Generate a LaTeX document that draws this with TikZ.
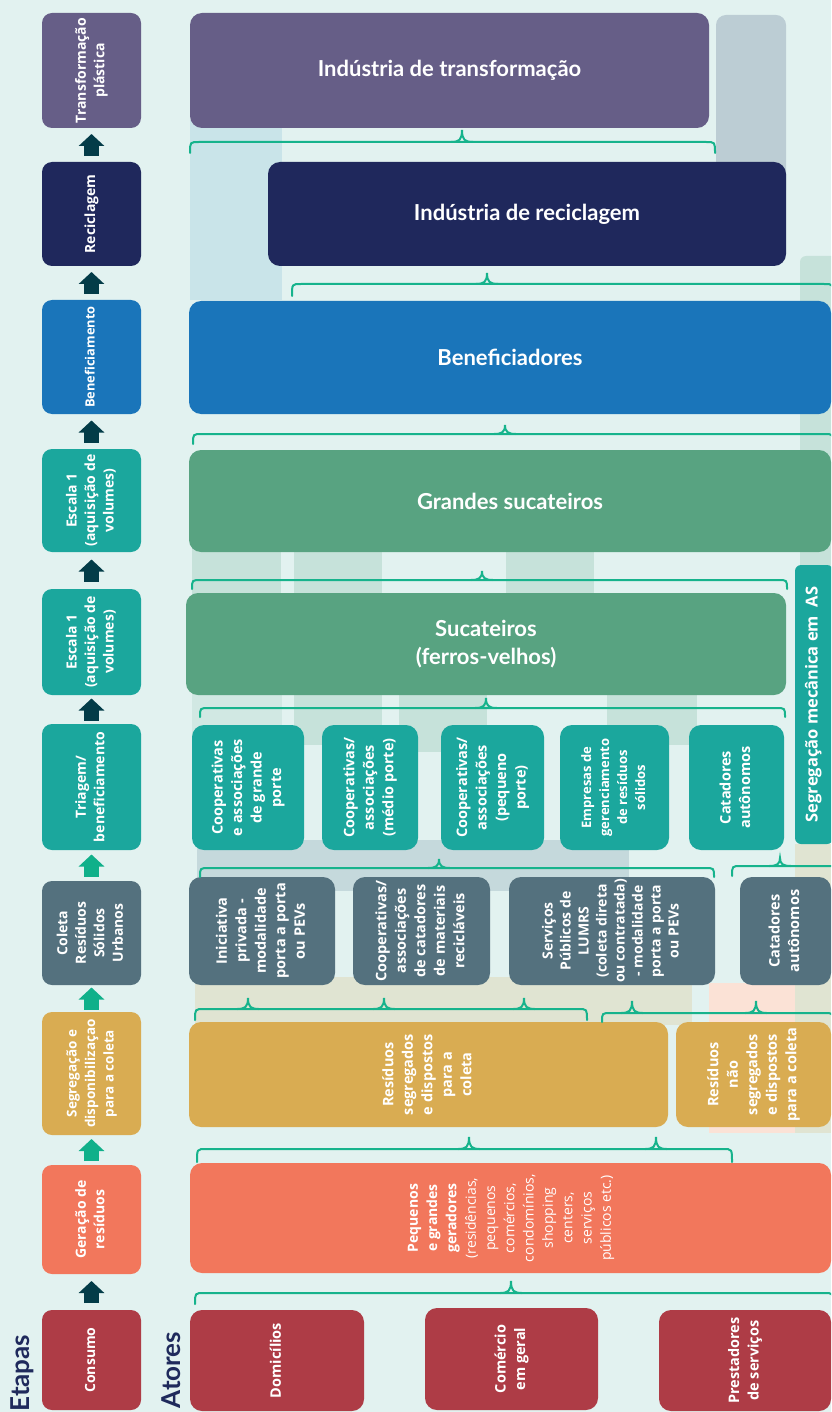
\documentclass[tikz,border=0pt]{standalone}
\usepackage{fontspec}
\setmainfont{Lato}
\newfontfamily\osans{Open Sans}
\usepackage{graphicx}
\usetikzlibrary{arrows.meta,calc}
\definecolor{bgmint}{HTML}{E2F2F0}
\definecolor{purpleT}{HTML}{665E87}
\definecolor{navyR}{HTML}{1F285C}
\definecolor{blueB}{HTML}{1A75BA}
\definecolor{greenS}{HTML}{58A381}
\definecolor{tealT}{HTML}{1BA79D}
\definecolor{slateC}{HTML}{54717E}
\definecolor{goldG}{HTML}{D9AC52}
\definecolor{coralG}{HTML}{F2775C}
\definecolor{redC}{HTML}{AE3C46}
\definecolor{arrdark}{HTML}{033C48}
\definecolor{arrgreen}{HTML}{10B08A}
\definecolor{bracegreen}{HTML}{16B38C}
\definecolor{titlenavy}{HTML}{1F2A5C}
\definecolor{stripblue}{HTML}{C9E4E9}
\definecolor{stripslate}{HTML}{BCCDD4}
\definecolor{stripgreen}{HTML}{C6E2DA}
\definecolor{stripgray}{HTML}{C5D9DC}
\definecolor{stripolive}{HTML}{E0E4D2}
\definecolor{strippeach}{HTML}{FBE2D6}
\newcommand{\vtxt}[1]{\rotatebox{90}{\begin{tabular}{@{}c@{}}#1\end{tabular}}}
\newcommand{\brc}[4]{\draw[brace] (#1,#4) .. controls (#1,#3) .. (#1+9,#3) -- (#2-9,#3) .. controls (#2,#3) .. (#2,#4);}
\newcommand{\btip}[3]{\draw[brace] (#1-11,#2) .. controls (#1-3,#2) and (#1,#2-2) .. (#1,#3) .. controls (#1,#2-2) and (#1+3,#2) .. (#1+11,#2);}
\tikzset{
  stage/.style={rounded corners=10pt,minimum width=99pt,inner sep=0pt,text=white,
    font=\osans\bfseries\fontsize{14}{18.5}\selectfont},
  actor/.style={rounded corners=12pt,inner sep=0pt,text=white,
    font=\osans\bfseries\fontsize{14.5}{19.5}\selectfont},
  head/.style={rounded corners=12pt,inner sep=0pt,text=white,align=center,
    font=\bfseries\fontsize{22}{28}\selectfont},
  brace/.style={draw=bracegreen,line width=2pt,line cap=round},
  stepup/.style={line width=15pt,-{Triangle[width=25pt,length=12pt]}}
}

\begin{document}
\begin{tikzpicture}[x=1pt,y=-1pt]
\useasboundingbox (0,0) rectangle (831,1412);
\clip (0,0) rectangle (831,1412);
\fill[bgmint] (0,0) rectangle (831,1412);
% ---- faixas de fundo ----
\fill[stripblue] (190,120) rectangle (282,300);
\fill[stripslate,rounded corners=10pt] (716,15) rectangle (786,200);
\fill[stripgreen,rounded corners=6pt] (800,256) rectangle (840,600);
\fill[stripgreen] (192,545) rectangle (281,600);
\fill[stripgreen] (294,545) rectangle (382,600);
\fill[stripgreen] (506,545) rectangle (594,600);
\fill[stripgreen!60!bgmint] (192,690) rectangle (282,745);
\fill[stripgreen] (294,690) rectangle (382,745);
\fill[stripgreen] (399,690) rectangle (487,752);
\fill[stripgreen] (607,690) rectangle (697,745);
\fill[stripgray] (197,840) rectangle (629,891);
\fill[stripolive] (195,977) rectangle (692,1025);
\fill[strippeach] (709,983) rectangle (795,1133);
\fill[stripolive] (795,844) rectangle (831,1133);

% ---- Etapas ----
\node[stage,fill=purpleT,minimum height=115pt] (trans) at (91.5,70.5) {\vtxt{Transformação\\plástica}};
\node[stage,fill=navyR,minimum height=104pt] (recic) at (91.5,214) {\vtxt{Reciclagem}};
\node[stage,fill=blueB,minimum height=114pt,font=\osans\bfseries\fontsize{12.8}{16}\selectfont] (benef) at (91.5,357) {\vtxt{Beneficiamento}};
\node[stage,fill=tealT,minimum height=103pt] (escA) at (91.5,500.5) {\vtxt{Escala 1\\(aquisição de\\volumes)}};
\node[stage,fill=tealT,minimum height=106pt] (escB) at (91.5,642) {\vtxt{Escala 1\\(aquisição de\\volumes)}};
\node[stage,fill=tealT,minimum height=126pt] (triag) at (91.5,787) {\vtxt{Triagem/\\beneficiamento}};
\node[stage,fill=slateC,minimum height=104pt] (colet) at (91.5,933) {\vtxt{Coleta\\Resíduos\\Sólidos\\Urbanos}};
\node[stage,fill=goldG,minimum height=123pt,font=\osans\bfseries\fontsize{13.5}{18.5}\selectfont] (segreg) at (91.5,1073.5) {\vtxt{Segregação e\\disponibilizaçao\\para a coleta}};
\node[stage,fill=coralG,minimum height=109pt] (gerac) at (91.5,1219.5) {\vtxt{Geração de\\resíduos}};
\node[stage,fill=redC,minimum height=100pt] (consumo) at (91.5,1360) {\vtxt{Consumo}};
\node[rotate=90,inner sep=0pt,text=titlenavy,font=\bfseries\fontsize{26}{30}\selectfont] (etapas) at (22,1373) {Etapas};
\node[rotate=90,inner sep=0pt,text=titlenavy,font=\bfseries\fontsize{26}{30}\selectfont] (atores) at (171,1370) {Atores};

\foreach \lo/\up/\col in {recic/trans/arrdark,benef/recic/arrdark,escA/benef/arrdark,escB/escA/arrdark,triag/escB/arrdark,colet/triag/arrgreen,segreg/colet/arrgreen,gerac/segreg/arrgreen,consumo/gerac/arrdark}
  \draw[stepup,draw=\col] ($(\lo.north)!.5!(\up.south)$) ++(0,11) -- ++(0,-22);

% ---- Atores ----
\node[head,fill=purpleT,minimum width=519pt,minimum height=115pt] (indtrans) at (449.5,70.5) {Indústria de transformação};
\node[head,fill=navyR,minimum width=518pt,minimum height=104pt] (indrec) at (527,214) {Indústria de reciclagem};
\node[head,fill=blueB,minimum width=642pt,minimum height=113pt] (benefs) at (510,357.5) {Beneficiadores};
\node[head,fill=greenS,minimum width=642pt,minimum height=102pt] (grandes) at (510,501) {Grandes sucateiros};
\node[head,fill=greenS,minimum width=600pt,minimum height=102pt] (sucat) at (486,644) {Sucateiros\\(ferros-velhos)};

\node[actor,fill=tealT,minimum width=112pt,minimum height=125pt] (coopG) at (248,787.5) {\vtxt{Cooperativas\\e associações\\de grande\\porte}};
\node[actor,fill=tealT,minimum width=96pt,minimum height=125pt] (coopM) at (370,787.5) {\vtxt{Cooperativas/\\associações\\(médio porte)}};
\node[actor,fill=tealT,minimum width=103pt,minimum height=125pt] (coopP) at (492.5,787.5) {\vtxt{Cooperativas/\\associações\\(pequeno\\porte)}};
\node[actor,fill=tealT,minimum width=109pt,minimum height=125pt,font=\osans\bfseries\fontsize{13}{18}\selectfont] (empr) at (614.5,787.5) {\vtxt{Empresas de\\gerenciamento\\de resíduos\\sólidos}};
\node[actor,fill=tealT,minimum width=95pt,minimum height=125pt] (catT) at (736.5,787.5) {\vtxt{Catadores\\autônomos}};
\node[actor,fill=tealT,rounded corners=6pt,minimum width=38pt,minimum height=279pt,font=\osans\bfseries\fontsize{16.5}{18}\selectfont] (segmec) at (814,704.5) {\vtxt{Segregação mecânica em\ \ AS}};

\node[actor,fill=slateC,minimum width=146pt,minimum height=108pt] (inic) at (262,931) {\vtxt{Iniciativa\\privada -\\modalidade\\porta a porta\\ou PEVs}};
\node[actor,fill=slateC,minimum width=137pt,minimum height=108pt] (coopC) at (421.5,931) {\vtxt{Cooperativas/\\associações\\de catadores\\de materiais\\recicláveis}};
\node[actor,fill=slateC,minimum width=206pt,minimum height=108pt,font=\osans\bfseries\fontsize{14}{18}\selectfont] (serv) at (612,931) {\vtxt{Serviços\\Públicos de\\LUMRS\\(coleta direta\\ou contratada)\\- modalidade\\porta a porta\\ou PEVs}};
\node[actor,fill=slateC,minimum width=91pt,minimum height=108pt] (catS) at (785.5,931) {\vtxt{Catadores\\autônomos}};

\node[actor,fill=goldG,minimum width=479pt,minimum height=105pt] (resS) at (428.5,1074.5) {\vtxt{Resíduos\\segregados\\e dispostos\\para a\\coleta}};
\node[actor,fill=goldG,minimum width=155pt,minimum height=105pt] (resN) at (753.5,1074.5) {\vtxt{Resíduos\\não\\segregados\\e dispostos\\para a coleta}};

\node[actor,fill=coralG,minimum width=641pt,minimum height=110pt,font=\osans\fontsize{14}{19.3}\selectfont] (pequenos) at (510.5,1218) {\vtxt{\textbf{Pequenos}\\\textbf{e grandes}\\\textbf{geradores}\\(residências,\\pequenos\\comércios,\\condomínios,\\shopping\\centers,\\serviços\\públicos etc.)}};

\node[actor,fill=redC,minimum width=174pt,minimum height=101pt] (dom) at (277,1360.5) {\vtxt{Domicílios}};
\node[actor,fill=redC,minimum width=173pt,minimum height=102pt] (com) at (511.5,1359) {\vtxt{Comércio\\em geral}};
\node[actor,fill=redC,minimum width=172pt,minimum height=101pt] (prest) at (745,1360.5) {\vtxt{Prestadores\\de serviços}};

% ---- chaves ----
\brc{190}{715}{142}{153} \btip{462}{142}{130}
\brc{292}{833}{284}{296} \btip{487}{284}{273}
\brc{193}{833}{434}{444} \btip{505}{434}{425}
\brc{192}{787}{580}{589} \btip{482}{580}{571}
\brc{200}{785}{708}{717} \btip{486}{708}{698}
\brc{200}{714}{868}{877} \btip{439}{868}{859}
\brc{732}{845}{866}{876} \btip{780}{866}{858}
\brc{195}{587}{1009}{1020} \btip{248}{1009}{998} \btip{384}{1009}{998} \btip{524}{1009}{998}
\brc{602}{833}{1013}{1022} \btip{632}{1013}{1001} \btip{756}{1013}{1001}
\brc{197}{732}{1149}{1162} \btip{469}{1149}{1137} \btip{656}{1149}{1137}
\brc{195}{833}{1293}{1304} \btip{511}{1293}{1281}
\end{tikzpicture}
\end{document}
